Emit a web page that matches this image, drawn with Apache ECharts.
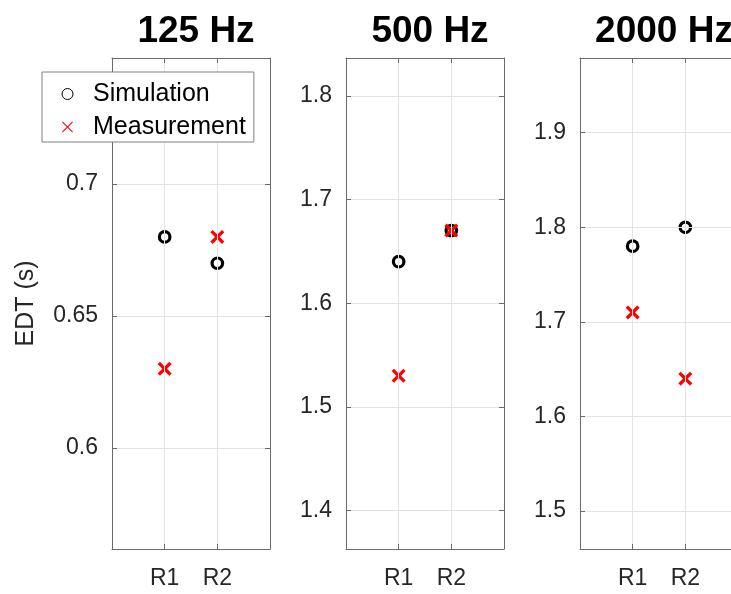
<!DOCTYPE html>
<html>
<head>
<meta charset="utf-8">
<script src="https://cdn.jsdelivr.net/npm/echarts@6/dist/echarts.min.js"></script>
<style>
html,body{margin:0;padding:0;background:#fff;overflow:hidden;}
#chart{width:760px;height:594px;}
</style>
</head>
<body>
<div id="chart"></div>
<script>
// ---- data ----
const categories = ['R1', 'R2'];
const panelTitles = ['125 Hz', '500 Hz', '2000 Hz'];
const simulation125 = [0.68, 0.67];
const measurement125 = [0.63, 0.68];
const simulation500 = [1.64, 1.67];
const measurement500 = [1.53, 1.67];
const simulation2000 = [1.78, 1.80];
const measurement2000 = [1.71, 1.64];
const yTicks125 = [0.6, 0.65, 0.7];
const yTicks500 = [1.4, 1.5, 1.6, 1.7, 1.8];
const yTicks2000 = [1.5, 1.6, 1.7, 1.8, 1.9];
const yLimits125 = [0.5617, 0.7478];
const yLimits500 = [1.363, 1.8364];
const yLimits2000 = [1.46, 1.9789];
const yAxisLabel = 'EDT (s)';
const seriesNames = ['Simulation', 'Measurement'];

const panels = [
  {title: panelTitles[0], sim: simulation125, meas: measurement125, ticks: yTicks125, lim: yLimits125},
  {title: panelTitles[1], sim: simulation500, meas: measurement500, ticks: yTicks500, lim: yLimits500},
  {title: panelTitles[2], sim: simulation2000, meas: measurement2000, ticks: yTicks2000, lim: yLimits2000}
];

const FONT = "'Liberation Sans', Arial, Helvetica, sans-serif";
const AXIS_COLOR = '#6a6a6a';
const GRID_COLOR = '#e3e3e3';
const TEXT_COLOR = '#262626';
const panelLefts = [112, 346, 580];
const panelWidth = 158, panelTop = 58, panelHeight = 491;

const xMarkPath = 'path://M0,2L2,0L6,4L10,0L12,2L8,6L12,10L10,12L6,8L2,12L0,10L4,6Z';
const xThinPath = 'path://M0,0.8L0.8,0L6,5.2L11.2,0L12,0.8L6.8,6L12,11.2L11.2,12L6,6.8L0.8,12L0,11.2L5.2,6Z';

const option = {
  animation: false,
  backgroundColor: '#ffffff',
  title: [],
  grid: [],
  xAxis: [],
  yAxis: [],
  series: [],
  legend: {
    left: 42, top: 72,
    orient: 'vertical',
    backgroundColor: '#ffffff',
    borderColor: '#7f7f7f',
    borderWidth: 1,
    borderRadius: 0,
    padding: [8, 8, 1, 19.5],
    itemGap: 5,
    itemWidth: 11,
    itemHeight: 11,
    z: 10,
    textStyle: {fontFamily: FONT, fontSize: 25, color: '#000', lineHeight: 28, padding: [0, 0, 0, 15]},
    data: [
      {name: seriesNames[0], icon: 'circle', itemStyle: {color: 'rgba(0,0,0,0)', borderColor: '#000', borderWidth: 1}},
      {name: seriesNames[1], icon: xThinPath, itemStyle: {color: '#ff0000', borderWidth: 0}}
    ]
  }
};

function isTick(v, ticks) {
  return ticks.some(t => Math.abs(t - v) < 1e-6);
}

panels.forEach((p, i) => {
  option.title.push({
    text: p.title,
    left: panelLefts[i] + panelWidth / 2,
    top: 8,
    textAlign: 'center',
    textStyle: {fontFamily: FONT, fontSize: 37, fontWeight: 'bold', color: '#000'}
  });
  option.grid.push({
    left: panelLefts[i], top: panelTop, width: panelWidth, height: panelHeight,
    containLabel: false, show: false
  });
  const xBase = {
    gridIndex: i, type: 'value', min: 0, max: categories.length + 1, interval: 1,
    axisLine: {show: true, onZero: false, lineStyle: {color: AXIS_COLOR, width: 1}},
    axisTick: {show: true, inside: true, length: 5, lineStyle: {color: AXIS_COLOR}},
    z: 5
  };
  option.xAxis.push(Object.assign({}, xBase, {
    position: 'bottom',
    axisLabel: {
      show: true, margin: 18, fontFamily: FONT, fontSize: 23, color: TEXT_COLOR,
      formatter: v => categories[Math.round(v) - 1] || ''
    },
    splitLine: {show: true, showMinLine: false, showMaxLine: false, lineStyle: {color: GRID_COLOR, width: 1}}
  }));
  option.xAxis.push(Object.assign({}, xBase, {
    position: 'top',
    axisLabel: {show: false},
    splitLine: {show: false}
  }));
  const yBase = {
    gridIndex: i, type: 'value', min: p.lim[0], max: p.lim[1], splitNumber: 4,
    axisLine: {show: true, onZero: false, lineStyle: {color: AXIS_COLOR, width: 1}},
    axisTick: {show: true, inside: true, length: 5, lineStyle: {color: AXIS_COLOR}},
    z: 5
  };
  const yLeft = Object.assign({}, yBase, {
    position: 'left',
    axisLabel: {
      show: true, margin: 14, fontFamily: FONT, fontSize: 23, color: TEXT_COLOR,
      formatter: v => isTick(v, p.ticks) ? String(+v.toFixed(2)) : ''
    },
    splitLine: {show: true, showMinLine: false, showMaxLine: false, lineStyle: {color: GRID_COLOR, width: 1}}
  });
  if (i === 0) {
    yLeft.name = yAxisLabel;
    yLeft.nameLocation = 'middle';
    yLeft.nameRotate = 90;
    yLeft.nameGap = 73;
    yLeft.nameTextStyle = {fontFamily: FONT, fontSize: 25, color: TEXT_COLOR};
  }
  option.yAxis.push(yLeft);
  option.yAxis.push(Object.assign({}, yBase, {
    position: 'right',
    axisLabel: {show: false},
    splitLine: {show: false}
  }));

  option.series.push({
    name: seriesNames[0], type: 'scatter',
    xAxisIndex: 2 * i, yAxisIndex: 2 * i,
    symbol: 'circle', symbolSize: 10.5,
    itemStyle: {color: 'rgba(0,0,0,0)', borderColor: '#000', borderWidth: 3.2, opacity: 1},
    z: 3,
    data: p.sim.map((v, k) => [k + 1, v])
  });
  option.series.push({
    name: seriesNames[1], type: 'scatter',
    xAxisIndex: 2 * i, yAxisIndex: 2 * i,
    symbol: xMarkPath, symbolSize: 14,
    itemStyle: {color: '#ff0000', borderWidth: 0, opacity: 1},
    z: 4,
    data: p.meas.map((v, k) => [k + 1, v])
  });
});

const chart = echarts.init(document.getElementById('chart'), null, {renderer: 'canvas'});
chart.setOption(option);
</script>
</body>
</html>
